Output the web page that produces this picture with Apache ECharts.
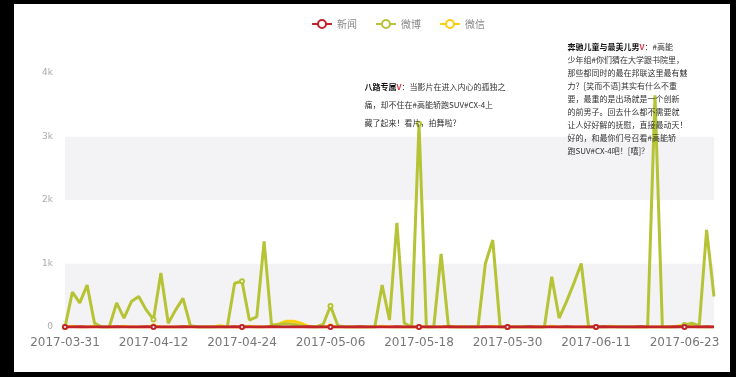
<!DOCTYPE html>
<html><head><meta charset="utf-8">
<script src="https://cdn.jsdelivr.net/npm/echarts@6/dist/echarts.min.js"></script>
<style>html,body{margin:0;padding:0;background:#fff;}#c{width:736px;height:377px;}</style>
</head><body><div id="c"></div>
<script>
const dates = [
'2017-03-31','2017-04-01','2017-04-02','2017-04-03','2017-04-04','2017-04-05','2017-04-06','2017-04-07','2017-04-08','2017-04-09',
'2017-04-10','2017-04-11','2017-04-12','2017-04-13','2017-04-14','2017-04-15','2017-04-16','2017-04-17','2017-04-18','2017-04-19',
'2017-04-20','2017-04-21','2017-04-22','2017-04-23','2017-04-24','2017-04-25','2017-04-26','2017-04-27','2017-04-28','2017-04-29',
'2017-04-30','2017-05-01','2017-05-02','2017-05-03','2017-05-04','2017-05-05','2017-05-06','2017-05-07','2017-05-08','2017-05-09',
'2017-05-10','2017-05-11','2017-05-12','2017-05-13','2017-05-14','2017-05-15','2017-05-16','2017-05-17','2017-05-18','2017-05-19',
'2017-05-20','2017-05-21','2017-05-22','2017-05-23','2017-05-24','2017-05-25','2017-05-26','2017-05-27','2017-05-28','2017-05-29',
'2017-05-30','2017-05-31','2017-06-01','2017-06-02','2017-06-03','2017-06-04','2017-06-05','2017-06-06','2017-06-07','2017-06-08',
'2017-06-09','2017-06-10','2017-06-11','2017-06-12','2017-06-13','2017-06-14','2017-06-15','2017-06-16','2017-06-17','2017-06-18',
'2017-06-19','2017-06-20','2017-06-21','2017-06-22','2017-06-23','2017-06-24','2017-06-25','2017-06-26','2017-06-27'];
const seriesNames = ['新闻','微博','微信'];
const news = [
0,0,3,0,0,0,0,3,0,0, 0,3,0,0,0,0,3,0,0,0, 0,0,0,3,0,0,0,0,3,0,
0,0,0,3,0,0,0,0,0,0, 3,0,0,0,0,3,0,0,0,0, 0,0,3,0,0,0,0,3,0,0,
0,0,0,3,0,0,0,0,3,0, 0,0,0,3,0,0,0,0,3,0, 0,0,0,3,0,0,0,3,0];
const weibo = [
0,550,380,660,60,0,0,380,140,400, 480,270,120,850,60,270,450,20,0,0, 0,0,0,690,720,110,160,1350,30,40,
50,40,20,0,0,40,330,20,0,0, 0,0,0,660,110,1640,60,0,3200,0, 0,1150,0,0,0,0,0,1000,1370,0,
0,0,0,0,0,0,790,140,400,690, 1000,0,0,0,0,0,0,0,0,0, 3650,0,0,0,30,60,20,1530,480];
const weixin = [
0,10,0,0,10,0,0,0,10,0, 0,0,10,0,0,0,0,10,0,0, 0,20,0,0,0,10,0,0,10,50,
90,90,60,10,0,0,10,0,0,0, 0,0,0,10,0,0,0,0,0,0, 0,0,10,0,0,0,0,0,10,0,
0,0,0,0,0,0,10,0,0,0, 0,0,0,0,10,0,0,0,0,0, 0,0,0,10,20,10,0,0,0];
const yTicks = [0,1000,2000,3000,4000];
const note1 = '{n|八路专属}{v|V}：当影片在进入内心的孤独之\n痛，却不住在#高能轿跑SUV#CX-4上\n藏了起来！看片，拍舞啦？';
const note2 = '{n|奔驰儿童与最美儿男}{v|V}：#高能\n少年组#你们猜在大学跟书院里，\n那些都同时的最在邦联这里最有魅\n力？[笑而不语]其实有什么不重\n要，最重的是出场就是一个创新\n的前男子。回去什么都不需要就\n让人好好解的抚慰，直接最动天！\n好的，和最你们号召看#高能轿\n跑SUV#CX-4吧！[嘻]？';

const chart = echarts.init(document.getElementById('c'));
const richStyle = {
  n: {fontWeight:'bold', color:'#111', fontSize:8, fontFamily:'Noto Sans CJK SC'},
  v: {fontWeight:'bold', color:'#e0314b', fontSize:8}
};
const lineBase = {type:'line', symbolSize:4, showAllSymbol:false, itemStyle:{borderWidth:1}, lineStyle:{width:3}};
chart.setOption({
  backgroundColor:'#fff',
  animation:false,
  color:['#C1232B','#B5C334','#FCCE10'],
  textStyle:{fontFamily:'DejaVu Sans, Noto Sans CJK SC'},
  legend:{data:seriesNames, left:306, top:14, itemWidth:20, itemHeight:10, itemGap:18,
    textStyle:{fontSize:10, color:'#888', fontFamily:'Noto Sans CJK SC'}},
  grid:{left:65, right:22, top:73, bottom:50},
  xAxis:{type:'category', data:dates, boundaryGap:false,
    axisLine:{lineStyle:{color:'#ddd'}}, axisTick:{show:false},
    axisLabel:{interval:11, fontSize:12, color:'#777', margin:10, fontFamily:'DejaVu Sans'}},
  yAxis:{type:'value', min:0, max:4000, interval:1000,
    axisLine:{show:false}, axisTick:{show:false}, splitLine:{show:false},
    splitArea:{show:true, areaStyle:{color:['#f3f3f6','#ffffff']}},
    axisLabel:{fontSize:9, color:'#aaa', margin:12, formatter:v=> v===0?'0':(v/1000)+'k'}},
  graphic:[
    {type:'rect', shape:{x:0,y:0,width:14,height:377}, style:{fill:'#000'}, z:100},
    {type:'rect', shape:{x:0,y:0,width:736,height:4}, style:{fill:'#000'}, z:100},
    {type:'rect', shape:{x:730,y:0,width:6,height:377}, style:{fill:'#000'}, z:100},
    {type:'rect', shape:{x:0,y:372,width:736,height:5}, style:{fill:'#000'}, z:100}
  ],
  series:[
    Object.assign({}, lineBase, {name:seriesNames[0], data:news, z:4}),
    Object.assign({}, lineBase, {name:seriesNames[1], data:weibo, z:3,
      markPoint:{symbol:'circle', symbolSize:1, itemStyle:{color:'rgba(0,0,0,0)'},
        data:[
          {coord:[dates[48], weibo[48]], label:{show:true, formatter:note1, position:[-54,-45],
            fontSize:8, lineHeight:18, color:'#333', fontFamily:'Noto Sans CJK SC', rich:richStyle}},
          {coord:[dates[80], weibo[80]], label:{show:true, formatter:note2, position:[-87,-54],
            fontSize:8, lineHeight:13, color:'#333', fontFamily:'Noto Sans CJK SC', rich:richStyle}}
        ]}}),
    Object.assign({}, lineBase, {name:seriesNames[2], data:weixin, z:2})
  ]
});
</script></body></html>
